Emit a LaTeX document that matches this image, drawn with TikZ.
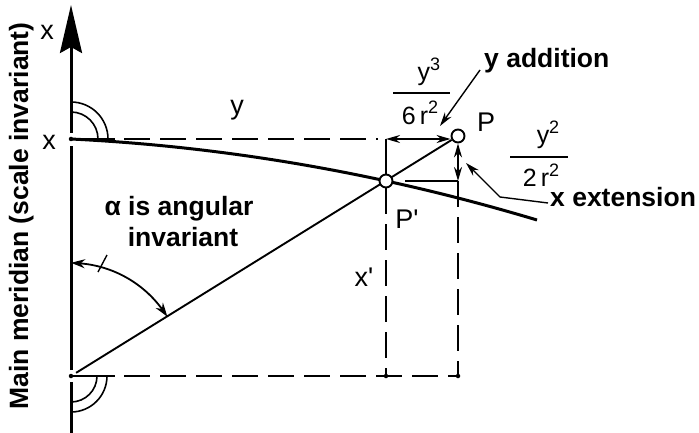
\documentclass[tikz,border=0pt]{standalone}
\usepackage{fontspec}
\setmainfont{Liberation Sans}
\usetikzlibrary{arrows.meta,bending}
\newcommand\supnum[1]{\raisebox{0.42em}{\fontsize{18}{18}\selectfont #1}}
\begin{document}
\begin{tikzpicture}[x=1pt,y=-1pt,
  thinline/.style={line width=1.9pt},
  thickline/.style={line width=3pt},
  dashline/.style={line width=1.9pt, dash pattern=on 26pt off 10pt},
  lbl/.style={font=\fontsize{27}{27}\selectfont, inner sep=0pt},
  blbl/.style={font=\fontsize{26.5}{30}\selectfont\bfseries, inner sep=0pt},
  fracfont/.style={font=\fontsize{25}{25}\selectfont, inner sep=0pt},
  pnt/.style={circle, draw, fill=white, line width=1.9pt, minimum size=13pt, inner sep=0pt},
  cornerdot/.style={circle, fill, minimum size=4.5pt, inner sep=0pt},
  onetip/.style={-{Stealth[length=14pt,width=8pt]}},
  twotips/.style={{Stealth[length=14pt,width=8pt]}-{Stealth[length=14pt,width=8pt]}},
]
\useasboundingbox (0,0) rectangle (699,433);

% key points
\coordinate (O) at (71,139);
\coordinate (B) at (71,376);
\coordinate (AxTop) at (71,5);
\coordinate (AxBot) at (71,433);
\coordinate (E) at (537,220);
\coordinate (T) at (386,139);
\coordinate (Q) at (386,376);
\coordinate (R) at (458,376);
\coordinate (Tk) at (405,181);
\coordinate (Tke) at (458,181);
\coordinate (Ya) at (480,70);
\coordinate (Yt) at (440,126);
\coordinate (Xa) at (548,203);
\coordinate (Xb) at (500,197);
\coordinate (Xt) at (466,163);

% main meridian axis
\draw[thickline] (AxBot) -- (71,382);
\draw[thickline] (71,370) -- (71,146);
\draw[thickline, -{Stealth[length=48pt,width=22pt,inset=6pt]}] (71,133) -- (AxTop);
\node[cornerdot] (dO) at (O) {};
\node[cornerdot] (dB) at (B) {};

% right angle marks
\draw[line width=1.6pt] ([shift={(0:37pt)}]O) arc[start angle=0,end angle=90,radius=37pt];
\draw[line width=1.6pt] ([shift={(0:27pt)}]O) arc[start angle=0,end angle=90,radius=27pt];
\draw[line width=1.6pt] ([shift={(0:36pt)}]B) arc[start angle=0,end angle=-90,radius=36pt];
\draw[line width=1.6pt] ([shift={(0:26pt)}]B) arc[start angle=0,end angle=-90,radius=26pt];

% angle alpha
\draw[line width=1.8pt, {Stealth[length=14pt,width=9pt,bend]}-{Stealth[length=14pt,width=9pt,bend]}]
  ([shift={(90:113pt)}]B) arc[start angle=90,end angle=31.6,radius=113pt];
\draw[line width=1.4pt] ([shift={(27pt,104pt)}]B) -- ([shift={(36pt,121pt)}]B);

% horizontal lines
\draw[thinline] (O) -- (115,139);
\draw[dashline] (124,139) -- (378,139);
\draw[thinline] (B) -- (115,376);
\draw[dashline] (124,376) -- (R);
\node[cornerdot] (dQ) at (Q) {};
\node[cornerdot] (dR) at (R) {};

% point P and the line from the bottom
\node[pnt] (P) at (458,136) {};
\draw[thinline, shorten <=6pt] (B) -- (P);
% curve (parallel)
\draw[line width=3pt] (O) .. controls (226.3,146.7) and (381.7,173.4) .. (E);
\node[pnt] (Pp) at (386,181) {};

% verticals
\draw[thinline] (T) -- (Pp);
\draw[dashline] (Pp) -- (Q);
\draw[thinline, twotips] (P) -- (Tke);
\draw[dashline] (Tke) -- (R);
\draw[line width=1.5pt] (Tk) -- (Tke);

% y^3/6r^2 dimension
\draw[thinline, twotips] (T) -- (T -| P.west);

% leaders
\draw[line width=1.4pt, onetip] (Ya) -- (Yt);
\draw[line width=1.4pt, onetip] (Xa) -- (Xb) -- (Xt);

% labels
\node[lbl] (xtop) at (47,32) {x};
\node[lbl] (xmid) at (49,142) {x};
\node[lbl] (ylab) at (237,110) {y};
\node[lbl] (Plab) at (486,122) {P};
\node[lbl] (Pplab) at (407,219) {P\textquotesingle};
\node[lbl] (xplab) at (364,277) {x\textquotesingle};

\node[fracfont] (f1n) at (429,72) {y\supnum{3}};
\draw[line width=1.9pt] (393,93) -- (450,93);
\node[fracfont] (f1d) at (420,113) {6\,r\supnum{2}};
\node[fracfont] (f2n) at (548,135) {y\supnum{2}};
\draw[line width=1.9pt] (510,157) -- (568,157);
\node[fracfont] (f2d) at (541,175) {2\,r\supnum{2}};

\node[blbl, anchor=base west] (yadd) at (484,68) {y addition};
\node[blbl, anchor=base west] (xext) at (550,207) {x extension};
\node[blbl, anchor=base] (alpha1) at (179,215) {α is angular};
\node[blbl, anchor=base] (alpha2) at (183,246) {invariant};
\node[blbl, rotate=90, anchor=base] (merid) at (28,216) {Main meridian (scale invariant)};
\end{tikzpicture}
\end{document}
